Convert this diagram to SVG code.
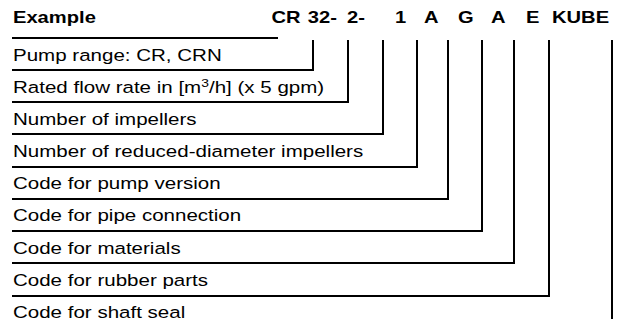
<svg xmlns="http://www.w3.org/2000/svg" width="617" height="324" viewBox="0 0 617 324">
<style>
.t{font-family:"Liberation Sans",Arial,sans-serif;font-size:16.3px;fill:#000}
.b{font-family:"Liberation Sans",Arial,sans-serif;font-size:16px;font-weight:bold;fill:#000}
.c{fill:none;stroke:#000;stroke-width:2}
</style>
<rect width="617" height="324" fill="#fff"/>
<g id="header" transform="scale(1.26,1)">
<text class="b" x="10.3" y="23.5">Example</text>
<text class="b" x="215.5" y="23.5">CR</text>
<text class="b" x="244.3" y="23.5">32-</text>
<text class="b" x="275.4" y="23.5">2-</text>
<text class="b" x="313.5" y="23.5">1</text>
<text class="b" x="336.5" y="23.5">A</text>
<text class="b" x="363.5" y="23.5">G</text>
<text class="b" x="389.7" y="23.5">A</text>
<text class="b" x="417.5" y="23.5">E</text>
<text class="b" x="438.1" y="23.5">KUBE</text>
</g>
<g id="n1" transform="scale(1.26,1)"><text class="t" x="10.3" y="61.5">Pump range: CR, CRN</text></g>
<g id="n2" transform="scale(1.26,1)"><text class="t" x="10.3" y="93.5">Rated flow rate in [m<tspan dy="-6" font-size="11">3</tspan><tspan dy="6">/h] (x 5 gpm)</tspan></text></g>
<g id="n3" transform="scale(1.26,1)"><text class="t" x="10.3" y="125">Number of impellers</text></g>
<g id="n4" transform="scale(1.26,1)"><text class="t" x="10.3" y="157">Number of reduced-diameter impellers</text></g>
<g id="n5" transform="scale(1.26,1)"><text class="t" x="10.3" y="189.5">Code for pump version</text></g>
<g id="n6" transform="scale(1.26,1)"><text class="t" x="10.3" y="221.5">Code for pipe connection</text></g>
<g id="n7" transform="scale(1.26,1)"><text class="t" x="10.3" y="254">Code for materials</text></g>
<g id="n8" transform="scale(1.26,1)"><text class="t" x="10.3" y="286">Code for rubber parts</text></g>
<g id="n9" transform="scale(1.26,1)"><text class="t" x="10.3" y="318.5">Code for shaft seal</text></g>
<g id="connectors">
<path class="c" d="M12 38H278"/>
<path class="c" d="M12 70H313V40"/>
<path class="c" d="M12 102H348V40"/>
<path class="c" d="M12 134H383V40"/>
<path class="c" d="M12 167H417V40"/>
<path class="c" d="M12 199H448V40"/>
<path class="c" d="M12 231H482V40"/>
<path class="c" d="M12 263H514V40"/>
<path class="c" d="M12 296H549V40"/>
<path class="c" d="M612 40V319"/>
</g>
</svg>
